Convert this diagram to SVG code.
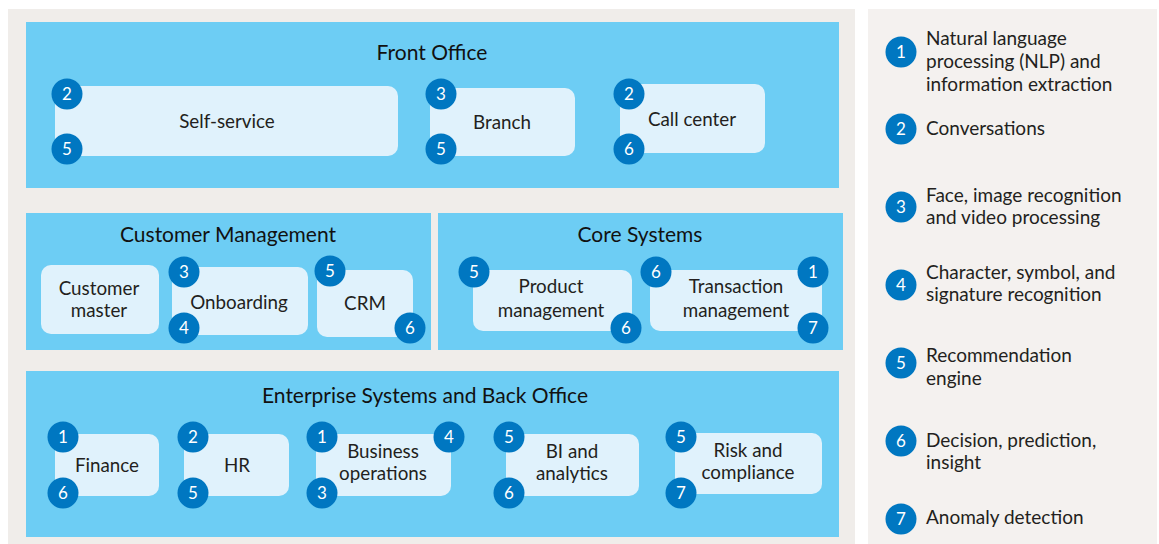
<svg xmlns="http://www.w3.org/2000/svg" width="1159" height="544" viewBox="0 0 1159 544">
<style>
.panel{fill:#F0EDEA}
.legendpanel{fill:#F4F1EF}
.group{fill:#6DCDF4}
.box{fill:#E0F2FC}
.badge{fill:#0077C1}
.bn{font-family:Lato,"Liberation Sans",sans-serif;font-size:17px;fill:#FFFFFF;text-anchor:middle}
.title{font-family:Lato,"Liberation Sans",sans-serif;font-size:21px;fill:#111111;text-anchor:middle}
.lbl{font-family:Lato,"Liberation Sans",sans-serif;font-size:18.8px;fill:#231F20;text-anchor:middle}
.leg{font-family:Lato,"Liberation Sans",sans-serif;font-size:19px;fill:#231F20}
</style>
<rect x="8" y="9" width="847" height="535" class="panel"/>
<rect x="868" y="9" width="289" height="535" class="legendpanel"/>

<g id="front-office">
<rect x="26" y="22" width="813" height="166" class="group"/>
<text x="432" y="60" class="title">Front Office</text>
</g>
<g id="self-service">
<rect x="55" y="86" width="343" height="70" rx="10" class="box"/>
<text x="227" y="128" class="lbl">Self-service</text>
<circle cx="67" cy="94" r="15.5" class="badge"/><text x="67" y="100" class="bn">2</text>
<circle cx="67" cy="149" r="15.5" class="badge"/><text x="67" y="155" class="bn">5</text>
</g>
<g id="branch">
<rect x="430" y="88" width="145" height="68" rx="10" class="box"/>
<text x="502" y="129" class="lbl">Branch</text>
<circle cx="441" cy="94" r="15.5" class="badge"/><text x="441" y="100" class="bn">3</text>
<circle cx="441" cy="149" r="15.5" class="badge"/><text x="441" y="155" class="bn">5</text>
</g>
<g id="call-center">
<rect x="620" y="84" width="145" height="69" rx="10" class="box"/>
<text x="692" y="126" class="lbl">Call center</text>
<circle cx="629" cy="94" r="15.5" class="badge"/><text x="629" y="100" class="bn">2</text>
<circle cx="629" cy="149" r="15.5" class="badge"/><text x="629" y="155" class="bn">6</text>
</g>

<g id="customer-management">
<rect x="26" y="213" width="405" height="137" class="group"/>
<text x="228" y="242" class="title">Customer Management</text>
</g>
<g id="customer-master">
<rect x="41" y="265" width="118" height="69" rx="10" class="box"/>
<text x="99" y="295" class="lbl">Customer</text>
<text x="99" y="317" class="lbl">master</text>
</g>
<g id="onboarding">
<rect x="172" y="267" width="136" height="68" rx="10" class="box"/>
<text x="239" y="309" class="lbl">Onboarding</text>
<circle cx="184" cy="272" r="15.5" class="badge"/><text x="184" y="278" class="bn">3</text>
<circle cx="184" cy="328" r="15.5" class="badge"/><text x="184" y="334" class="bn">4</text>
</g>
<g id="crm">
<rect x="317" y="270" width="96" height="67" rx="10" class="box"/>
<text x="365" y="310" class="lbl">CRM</text>
<circle cx="330" cy="271" r="15.5" class="badge"/><text x="330" y="277" class="bn">5</text>
<circle cx="410" cy="328" r="15.5" class="badge"/><text x="410" y="334" class="bn">6</text>
</g>

<g id="core-systems">
<rect x="438" y="213" width="405" height="137" class="group"/>
<text x="640" y="242" class="title">Core Systems</text>
</g>
<g id="product-management">
<rect x="473" y="270" width="159" height="61" rx="10" class="box"/>
<text x="551" y="293" class="lbl">Product</text>
<text x="551" y="317" class="lbl">management</text>
<circle cx="474" cy="272" r="15.5" class="badge"/><text x="474" y="278" class="bn">5</text>
<circle cx="626" cy="328" r="15.5" class="badge"/><text x="626" y="334" class="bn">6</text>
</g>
<g id="transaction-management">
<rect x="650" y="270" width="172" height="61" rx="10" class="box"/>
<text x="736" y="293" class="lbl">Transaction</text>
<text x="736" y="317" class="lbl">management</text>
<circle cx="656" cy="272" r="15.5" class="badge"/><text x="656" y="278" class="bn">6</text>
<circle cx="813" cy="272" r="15.5" class="badge"/><text x="813" y="278" class="bn">1</text>
<circle cx="813" cy="328" r="15.5" class="badge"/><text x="813" y="334" class="bn">7</text>
</g>

<g id="enterprise">
<rect x="26" y="371" width="813" height="166" class="group"/>
<text x="425" y="403" class="title">Enterprise Systems and Back Office</text>
</g>
<g id="finance">
<rect x="55" y="434" width="104" height="62" rx="10" class="box"/>
<text x="107" y="472" class="lbl">Finance</text>
<circle cx="63" cy="437" r="15.5" class="badge"/><text x="63" y="443" class="bn">1</text>
<circle cx="63" cy="493" r="15.5" class="badge"/><text x="63" y="499" class="bn">6</text>
</g>
<g id="hr">
<rect x="184" y="434" width="105" height="62" rx="10" class="box"/>
<text x="237" y="472" class="lbl">HR</text>
<circle cx="193" cy="437" r="15.5" class="badge"/><text x="193" y="443" class="bn">2</text>
<circle cx="193" cy="493" r="15.5" class="badge"/><text x="193" y="499" class="bn">5</text>
</g>
<g id="business-operations">
<rect x="316" y="434" width="135" height="62" rx="10" class="box"/>
<text x="383" y="458" class="lbl">Business</text>
<text x="383" y="480" class="lbl">operations</text>
<circle cx="322" cy="437" r="15.5" class="badge"/><text x="322" y="443" class="bn">1</text>
<circle cx="322" cy="493" r="15.5" class="badge"/><text x="322" y="499" class="bn">3</text>
<circle cx="449" cy="437" r="15.5" class="badge"/><text x="449" y="443" class="bn">4</text>
</g>
<g id="bi-analytics">
<rect x="506" y="434" width="133" height="62" rx="10" class="box"/>
<text x="572" y="458" class="lbl">BI and</text>
<text x="572" y="480" class="lbl">analytics</text>
<circle cx="509" cy="437" r="15.5" class="badge"/><text x="509" y="443" class="bn">5</text>
<circle cx="509" cy="493" r="15.5" class="badge"/><text x="509" y="499" class="bn">6</text>
</g>
<g id="risk-compliance">
<rect x="675" y="433" width="147" height="61" rx="10" class="box"/>
<text x="748" y="457" class="lbl">Risk and</text>
<text x="748" y="479" class="lbl">compliance</text>
<circle cx="681" cy="437" r="15.5" class="badge"/><text x="681" y="443" class="bn">5</text>
<circle cx="681" cy="493" r="15.5" class="badge"/><text x="681" y="499" class="bn">7</text>
</g>

<g id="connectors"></g>

<g id="legend">
<circle cx="901" cy="52" r="15.5" class="badge"/><text x="901" y="58" class="bn">1</text>
<text x="926" y="45" class="leg">Natural language</text>
<text x="926" y="68" class="leg">processing (NLP) and</text>
<text x="926" y="91" class="leg">information extraction</text>
<circle cx="901" cy="129" r="15.5" class="badge"/><text x="901" y="135" class="bn">2</text>
<text x="926" y="135" class="leg">Conversations</text>
<circle cx="901" cy="207" r="15.5" class="badge"/><text x="901" y="213" class="bn">3</text>
<text x="926" y="202" class="leg">Face, image recognition</text>
<text x="926" y="224" class="leg">and video processing</text>
<circle cx="901" cy="285" r="15.5" class="badge"/><text x="901" y="291" class="bn">4</text>
<text x="926" y="279" class="leg">Character, symbol, and</text>
<text x="926" y="301" class="leg">signature recognition</text>
<circle cx="901" cy="363" r="15.5" class="badge"/><text x="901" y="369" class="bn">5</text>
<text x="926" y="362" class="leg">Recommendation</text>
<text x="926" y="385" class="leg">engine</text>
<circle cx="901" cy="441" r="15.5" class="badge"/><text x="901" y="447" class="bn">6</text>
<text x="926" y="447" class="leg">Decision, prediction,</text>
<text x="926" y="469" class="leg">insight</text>
<circle cx="901" cy="519" r="15.5" class="badge"/><text x="901" y="525" class="bn">7</text>
<text x="926" y="524" class="leg">Anomaly detection</text>
</g>
</svg>
